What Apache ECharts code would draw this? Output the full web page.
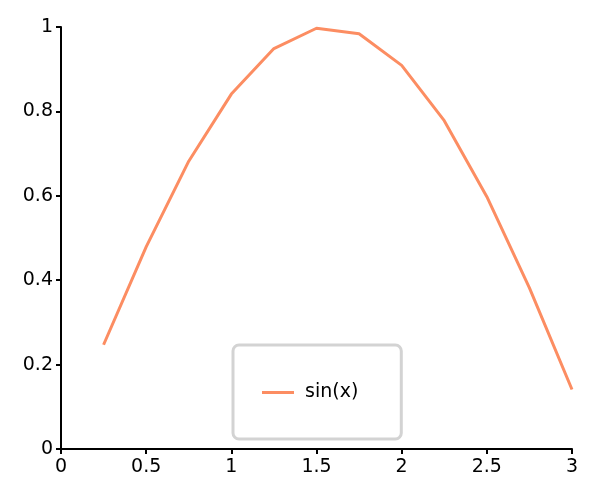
<!DOCTYPE html>
<html><head><meta charset="utf-8">
<script src="https://cdn.jsdelivr.net/npm/echarts@6/dist/echarts.min.js"></script>
<style>html,body{margin:0;padding:0;background:#fff}#c{width:600px;height:500px}</style>
</head><body><div id="c"></div>
<script>
const xValues = [0.25, 0.5, 0.75, 1, 1.25, 1.5, 1.75, 2, 2.25, 2.5, 2.75, 3];
const sinValues = [0.247, 0.479, 0.682, 0.841, 0.949, 0.997, 0.984, 0.909, 0.778, 0.598, 0.382, 0.141];
const seriesName = 'sin(x)';
const font = 'DejaVu Sans';
const fs = 19;
const chart = echarts.init(document.getElementById('c'), null, {renderer: 'canvas'});
const axisCommon = {
  axisLine: {show: true, onZero: false, lineStyle: {color: '#000', width: 2}},
  axisTick: {show: true, inside: false, length: 5, lineStyle: {color: '#000', width: 2}},
  splitLine: {show: false}
};
chart.setOption({
  animation: false,
  backgroundColor: '#fff',
  grid: {left: 61, right: 28, top: 27, bottom: 51, containLabel: false},
  xAxis: Object.assign({}, axisCommon, {
    type: 'value', min: 0, max: 3, interval: 0.5,
    axisLabel: {color: '#000', fontFamily: font, fontSize: fs, margin: 9}
  }),
  yAxis: Object.assign({}, axisCommon, {
    type: 'value', min: 0, max: 1, interval: 0.2,
    axisLabel: {color: '#000', fontFamily: font, fontSize: fs, margin: 8}
  }),
  legend: {
    left: 233, top: 345,
    padding: [38, 43, 37, 29],
    borderColor: '#d3d3d3', borderWidth: 3, borderRadius: 6,
    itemWidth: 32, itemHeight: 3, itemGap: 10,
    textStyle: {color: '#000', fontFamily: font, fontSize: fs, padding: [0, 0, 0, 6]},
    data: [{name: seriesName, icon: 'rect'}]
  },
  series: [{
    name: seriesName, type: 'line', symbol: 'none', clip: true,
    lineStyle: {color: '#fc8d62', width: 3},
    itemStyle: {color: '#fc8d62'},
    data: xValues.map((x, i) => [x, sinValues[i]])
  }]
});
</script></body></html>
